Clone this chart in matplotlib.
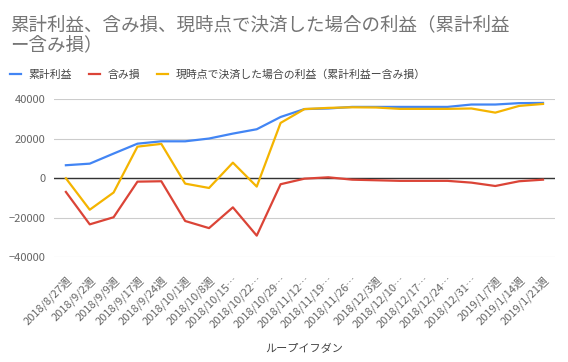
import matplotlib

matplotlib.use("Agg")
import matplotlib.pyplot as plt
import numpy as np

plt.rcParams["font.family"] = ["Noto Sans CJK JP", "DejaVu Sans"]

weeks = [
    "2018/8/27週", "2018/9/2週", "2018/9/9週", "2018/9/17週", "2018/9/24週",
    "2018/10/1週", "2018/10/8週", "2018/10/15…", "2018/10/22…", "2018/10/29…",
    "2018/11/12…", "2018/11/19…", "2018/11/26…", "2018/12/3週", "2018/12/10…",
    "2018/12/17…", "2018/12/24…", "2018/12/31…", "2019/1/7週", "2019/1/14週",
    "2019/1/21週",
]
cumulative = [6600, 7400, 12500, 17500, 18700, 18700, 20100, 22600, 24800, 31000,
              35000, 35300, 36100, 36100, 36100, 36100, 36100, 37300, 37300, 38000, 38100]
unrealized = [-6900, -23300, -19700, -1700, -1500, -21600, -25200, -14700, -29000, -3000,
              -200, 500, -700, -1000, -1300, -1300, -1300, -2200, -3900, -1500, -700]
settled = [0, -15900, -7200, 16000, 17400, -2700, -4900, 7900, -4200, 28000,
           35000, 35600, 35900, 35800, 35100, 35100, 35100, 35300, 33200, 36600, 37600]

names = ["累計利益", "含み損", "現時点で決済した場合の利益（累計利益ー含み損）"]
colors = ["#4285F4", "#DB4437", "#F4B400"]
title = "累計利益、含み損、現時点で決済した場合の利益（累計利益\nー含み損）"

fig = plt.figure(figsize=(5.68, 3.62), dpi=100)
ax = fig.add_axes([0.095, 0.289, 0.882, 0.437])

x = np.arange(len(weeks))
lines = []
for vals, name, col in zip([cumulative, unrealized, settled], names, colors):
    (ln,) = ax.plot(x, vals, color=col, lw=1.6, label=name, zorder=3)
    lines.append(ln)

ax.set_xlim(-0.5, len(weeks) - 0.5)
ax.set_ylim(-40000, 40000)
ax.set_yticks([-40000, -20000, 0, 20000, 40000])
ax.yaxis.grid(True, color="#cccccc", lw=0.8)
ax.axhline(0, color="#333333", lw=1.0, zorder=2)
ax.set_axisbelow(True)
for s in ax.spines.values():
    s.set_visible(False)
ax.tick_params(axis="both", length=0, colors="#666666", labelsize=8)
ax.tick_params(axis="y", pad=6, labelsize=8)
ax.set_xticks(x)
ax.set_xticklabels(weeks, rotation=45, ha="right", rotation_mode="anchor")
ax.tick_params(axis="x", pad=12)
ax.set_xlabel("ループイフダン", color="#444444", fontsize=8, labelpad=10)

fig.text(0.018, 0.955, title, fontsize=13.3, color="#757575", va="top", ha="left",
         linespacing=1.12)
fig.legend(handles=lines, loc="center left", bbox_to_anchor=(0.0, 0.793), ncol=3,
           frameon=False, fontsize=7.8, labelcolor="#444444", handlelength=1.0,
           handletextpad=0.7, columnspacing=1.6)

fig.savefig("out.png", dpi=100)
